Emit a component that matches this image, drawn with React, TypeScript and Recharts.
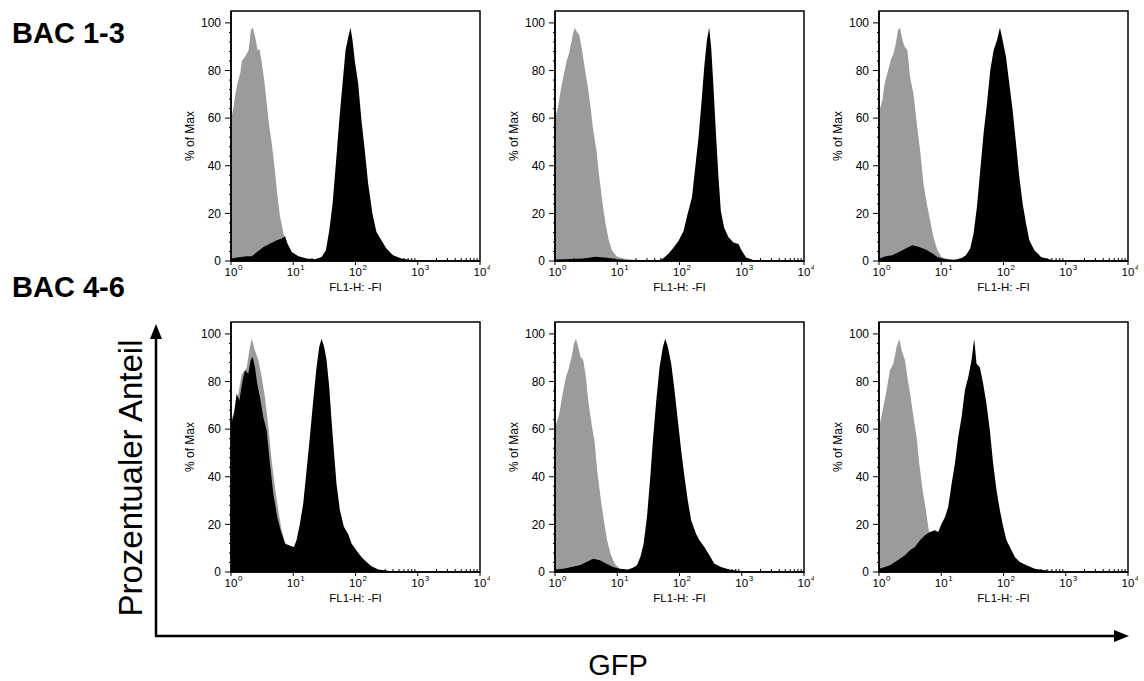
import { AreaChart, Area, XAxis, YAxis, ReferenceArea } from "recharts";

// x = log10(FL1-H), y = % of Max
const bac1Ctrl = [[0.005,60],[0.043,65],[0.07,70],[0.107,75],[0.149,79],[0.176,84],[0.229,86],[0.283,88.5],[0.32,97],[0.352,98],[0.389,94],[0.427,88.5],[0.459,89],[0.496,83],[0.533,76],[0.587,63],[0.608,58],[0.656,49],[0.709,37],[0.747,27],[0.789,18.5],[0.843,11.5],[0.896,7],[0.949,2.4],[1.03,0.3],[1.1,0]];
const bac1Gfp = [[0.005,1],[0.1,1.5],[0.256,2],[0.336,2],[0.416,3.8],[0.523,5.9],[0.629,7.3],[0.736,8.7],[0.816,9.4],[0.869,10.4],[0.907,7.3],[0.976,3.8],[1.083,2],[1.216,1],[1.349,0.7],[1.456,1.7],[1.525,4.5],[1.579,12.9],[1.632,24],[1.685,41],[1.739,59],[1.792,74.5],[1.84,88.5],[1.883,94],[1.92,98],[1.952,92.7],[1.989,84],[2.043,74.5],[2.096,59],[2.149,46.5],[2.203,32.5],[2.272,20],[2.336,12.2],[2.416,8.7],[2.496,5.2],[2.603,2.4],[2.736,1],[2.923,0.3],[3.136,0]];
const bac2Ctrl = [[0.005,60.4],[0.048,64.6],[0.091,71.6],[0.144,78.6],[0.187,84],[0.224,87],[0.278,94],[0.315,98],[0.358,96],[0.39,95],[0.438,88],[0.491,78.6],[0.529,73],[0.571,64.6],[0.614,54.8],[0.667,46.4],[0.705,36.6],[0.758,25.4],[0.812,15.5],[0.865,8.5],[0.918,4.3],[0.998,1.8],[1.132,0.8],[1.372,0.3],[1.5,0]];
const bac2Gfp = [[0.005,0.6],[0.25,0.8],[0.464,1],[0.651,1.8],[0.838,1.4],[0.945,0.8],[1.159,0.4],[1.692,0.4],[1.746,1.3],[1.826,3.2],[1.906,5.7],[1.986,8.5],[2.066,12.7],[2.13,19.7],[2.2,26.7],[2.253,39.4],[2.306,52],[2.36,68.8],[2.397,81.4],[2.44,92.6],[2.477,98],[2.509,89.8],[2.546,73],[2.589,52],[2.627,35],[2.664,21],[2.717,14],[2.787,10],[2.867,7.8],[2.947,7.1],[3.0,4.3],[3.07,1.5],[3.187,0.4],[3.4,0]];
const bac3Ctrl = [[0.005,63],[0.054,67.5],[0.091,74.5],[0.134,78.7],[0.188,84.3],[0.231,87],[0.268,91],[0.306,97],[0.338,98],[0.376,92.7],[0.413,90],[0.456,88.5],[0.499,77.3],[0.553,70.3],[0.607,57.7],[0.66,46.5],[0.714,32.5],[0.768,24],[0.821,17],[0.875,10],[0.939,4.5],[1.004,1.7],[1.127,0.5],[1.25,0]];
const bac3Gfp = [[0.005,1],[0.107,2],[0.215,2.4],[0.322,3.8],[0.429,5.2],[0.537,6.6],[0.644,5.9],[0.751,4.8],[0.859,3.1],[0.939,1.7],[1.047,0.8],[1.208,0.5],[1.315,1],[1.396,2.4],[1.465,5.2],[1.519,11.5],[1.573,22.7],[1.626,38],[1.68,53.5],[1.734,66],[1.787,80],[1.841,88.5],[1.895,92.7],[1.943,98],[1.986,92.7],[2.04,85.7],[2.093,74.5],[2.147,63.3],[2.201,49.3],[2.254,35.3],[2.308,24],[2.362,15.7],[2.415,8.7],[2.496,4.5],[2.603,1.7],[2.764,0.5],[2.979,0]];
const bac4Ctrl = [[0.005,63.7],[0.091,70.7],[0.171,83],[0.251,85.7],[0.305,94.5],[0.332,98],[0.385,93],[0.439,89],[0.492,82],[0.545,73.5],[0.599,61],[0.652,47],[0.706,35.7],[0.759,26],[0.813,17.5],[0.893,10.5],[0.973,5],[1.053,1],[1.15,0]];
const bac4Gfp = [[0.005,62.3],[0.048,66.5],[0.091,75],[0.134,72],[0.187,80.5],[0.225,84.7],[0.278,83.3],[0.316,89],[0.348,90.3],[0.385,86],[0.422,79],[0.465,73.5],[0.519,65],[0.572,59.5],[0.626,45.5],[0.679,33],[0.743,23],[0.797,17.5],[0.866,12],[0.947,11],[1.011,10.5],[1.053,13.3],[1.107,20.3],[1.16,28.7],[1.214,42.7],[1.267,56.7],[1.321,72],[1.374,86],[1.417,94.5],[1.455,98],[1.497,94.5],[1.535,89],[1.578,77.7],[1.615,63.7],[1.652,51],[1.695,37],[1.749,26],[1.813,19],[1.882,16],[1.936,12],[2.016,9],[2.096,6.3],[2.176,4.2],[2.257,2.4],[2.364,1],[2.551,0.4],[2.818,0]];
const bac5Ctrl = [[0.005,61],[0.069,66.5],[0.123,75],[0.176,82],[0.213,84.7],[0.267,90.3],[0.304,96],[0.336,98],[0.373,94.5],[0.411,90.3],[0.453,89],[0.496,82],[0.533,72],[0.587,62.3],[0.64,54],[0.677,42.7],[0.731,31.5],[0.784,21.7],[0.837,13.3],[0.891,7.7],[0.96,3.5],[1.04,1.4],[1.147,0.7],[1.3,0]];
const bac5Gfp = [[0.005,1],[0.133,1.4],[0.267,2.1],[0.4,2.8],[0.507,4.2],[0.613,5.6],[0.72,4.9],[0.827,3.5],[0.933,2.1],[1.04,1.4],[1.173,1],[1.253,1.8],[1.317,2.8],[1.371,6.3],[1.424,11.9],[1.477,23],[1.531,40],[1.573,55.3],[1.627,72],[1.68,86],[1.733,94.5],[1.771,98],[1.813,94.5],[1.867,87.5],[1.92,76.3],[1.973,63.7],[2.027,51],[2.08,40],[2.133,30],[2.187,21.7],[2.267,16],[2.32,13.3],[2.4,10.5],[2.48,7],[2.56,3.5],[2.667,2.1],[2.8,1],[2.96,0.4],[3.173,0]];
const bac6Ctrl = [[0.005,61],[0.059,68],[0.112,75],[0.176,84.7],[0.23,87.5],[0.283,94.5],[0.326,98],[0.364,93],[0.417,89],[0.455,82],[0.508,73.5],[0.561,63.7],[0.604,56.7],[0.647,45.5],[0.701,34.3],[0.754,26],[0.791,19],[0.845,10.5],[0.898,5],[0.979,1.4],[1.08,0]];
const bac6Gfp = [[0.005,1.4],[0.096,2.1],[0.176,2.8],[0.257,4.2],[0.337,5.6],[0.417,7],[0.497,9.1],[0.578,10.5],[0.658,13.3],[0.738,15.4],[0.818,16.8],[0.898,17.5],[0.952,16.8],[1.005,20.3],[1.059,23],[1.112,27.3],[1.166,37],[1.219,45.5],[1.273,56.7],[1.326,65],[1.38,76.3],[1.433,81.8],[1.487,89],[1.529,98],[1.567,87.5],[1.62,86],[1.674,79],[1.727,70.6],[1.781,59.4],[1.834,45.5],[1.888,34.3],[1.941,26],[1.995,19],[2.048,13.3],[2.102,10.5],[2.182,6.3],[2.262,4.2],[2.369,2.8],[2.503,1.4],[2.663,0.7],[2.904,0]];

const decades = [0, 1, 2, 3, 4];
const minorMultipliers = [2, 3, 4, 5, 6, 7, 8, 9];
const yMajor = [0, 20, 40, 60, 80, 100];
const yMinorSteps = [4, 8, 12, 16];
const rowLabels = ["BAC 1-3", "BAC 4-6"];

const xTicks = [
  ...decades,
  ...decades.slice(0, 4).flatMap((d) => minorMultipliers.map((m) => d + Math.log10(m))),
];
const yTicks = [...yMajor, ...yMajor.slice(0, 5).flatMap((v) => yMinorSteps.map((s) => v + s))];

const FONT = "'Liberation Sans', Arial, Helvetica, sans-serif";
const GRAY = "#9b9b9b";
const PW = 249;
const PH = 250;
const AXW = 60;

const toPts = (a: number[][]) => a.map(([x, y]) => ({ x, y }));

const XTick = ({ x, y, payload }: any) => {
  const v = payload.value;
  if (!decades.includes(v)) {
    return <line x1={x} x2={x} y1={y} y2={y - 3} stroke="#000" strokeWidth={1} />;
  }
  return (
    <g>
      <line x1={x} x2={x} y1={y} y2={y + 4} stroke="#000" strokeWidth={1} />
      <text x={x} y={y + 15} textAnchor="middle" fontSize={11.5} fontFamily={FONT} fill="#000">
        10
      </text>
      <text x={x + 7} y={y + 9} textAnchor="start" fontSize={8} fontFamily={FONT} fill="#000">
        {v}
      </text>
    </g>
  );
};

const YTick = ({ x, y, payload }: any) => {
  const v = payload.value;
  if (!yMajor.includes(v)) {
    return <line x1={x} x2={x - 2} y1={y} y2={y} stroke="#000" strokeWidth={1} />;
  }
  return (
    <g>
      <line x1={x} x2={x - 6} y1={y} y2={y} stroke="#000" strokeWidth={1} />
      <text x={x - 10} y={y} dy="0.35em" textAnchor="end" fontSize={12} fontFamily={FONT} fill="#000">
        {v}
      </text>
    </g>
  );
};

const YTitle = ({ viewBox }: any) => {
  const cx = viewBox.x + 23;
  const cy = viewBox.y + viewBox.height / 2;
  return (
    <text x={cx} y={cy} transform={`rotate(-90 ${cx} ${cy})`} textAnchor="middle" fontSize={12} fontFamily={FONT} fill="#000">
      % of Max
    </text>
  );
};

interface IHist {
  left: number;
  top: number;
  ctrl: number[][];
  gfp: number[][];
}

const Histogram = ({ left, top, ctrl, gfp }: IHist) => (
  <div style={{ position: "absolute", left: left - AXW, top: top - 5 }}>
    <AreaChart width={AXW + PW + 10} height={5 + PH + 45} margin={{ top: 5, right: 10, bottom: 0, left: 0 }}>
      <XAxis
        type="number"
        dataKey="x"
        domain={[0, 4]}
        allowDataOverflow
        ticks={xTicks}
        interval={0}
        tickSize={0}
        tickMargin={0}
        tickLine={false}
        tick={<XTick />}
        axisLine={{ stroke: "#000", strokeWidth: 1.5 }}
        height={45}
        label={{ value: "FL1-H: -FI", position: "insideBottom", offset: 15, fontSize: 11.5, fill: "#000", fontFamily: FONT }}
      />
      <YAxis
        type="number"
        dataKey="y"
        domain={[0, 105]}
        allowDataOverflow
        ticks={yTicks}
        interval={0}
        tickSize={0}
        tickMargin={0}
        tickLine={false}
        tick={<YTick />}
        axisLine={{ stroke: "#000", strokeWidth: 1.5 }}
        width={AXW}
        label={<YTitle />}
      />
      <Area data={toPts(ctrl)} dataKey="y" type="linear" stroke="none" fill={GRAY} fillOpacity={1} isAnimationActive={false} />
      <Area data={toPts(gfp)} dataKey="y" type="linear" stroke="none" fill="#000" fillOpacity={1} isAnimationActive={false} />
      <ReferenceArea x1={0} x2={4} y1={0} y2={105} fill="none" stroke="#000" strokeWidth={1.5} ifOverflow="visible" />
    </AreaChart>
  </div>
);

const colLeft = [231, 555, 879];
const rowTop = [11, 322];
const panels = [
  [bac1Ctrl, bac1Gfp],
  [bac2Ctrl, bac2Gfp],
  [bac3Ctrl, bac3Gfp],
  [bac4Ctrl, bac4Gfp],
  [bac5Ctrl, bac5Gfp],
  [bac6Ctrl, bac6Gfp],
];

export default function App() {
  return (
    <div style={{ position: "absolute", left: 0, top: 0, width: 1144, height: 681, background: "#fff", fontFamily: FONT }}>
      {panels.map(([c, g], i) => (
        <Histogram key={i} left={colLeft[i % 3]} top={rowTop[Math.floor(i / 3)]} ctrl={c} gfp={g} />
      ))}
      <svg width={1144} height={681} style={{ position: "absolute", left: 0, top: 0, pointerEvents: "none" }}>
        <text x={12} y={43} fontSize={29} fontWeight="bold" fontFamily={FONT} fill="#000">
          {rowLabels[0]}
        </text>
        <text x={12} y={297} fontSize={29} fontWeight="bold" fontFamily={FONT} fill="#000">
          {rowLabels[1]}
        </text>
        <line x1={156} y1={637} x2={156} y2={338} stroke="#000" strokeWidth={2.5} />
        <polygon points="150,339 162,339 156,324" fill="#000" />
        <line x1={155} y1={636} x2={1115} y2={636} stroke="#000" strokeWidth={2.5} />
        <polygon points="1114,630 1114,642 1129,636" fill="#000" />
        <text x={142} y={478} transform="rotate(-90 142 478)" textAnchor="middle" fontSize={33} fontFamily={FONT} fill="#000">
          Prozentualer Anteil
        </text>
        <text x={618} y={675} textAnchor="middle" fontSize={29} fontFamily={FONT} fill="#000">
          GFP
        </text>
      </svg>
    </div>
  );
}
